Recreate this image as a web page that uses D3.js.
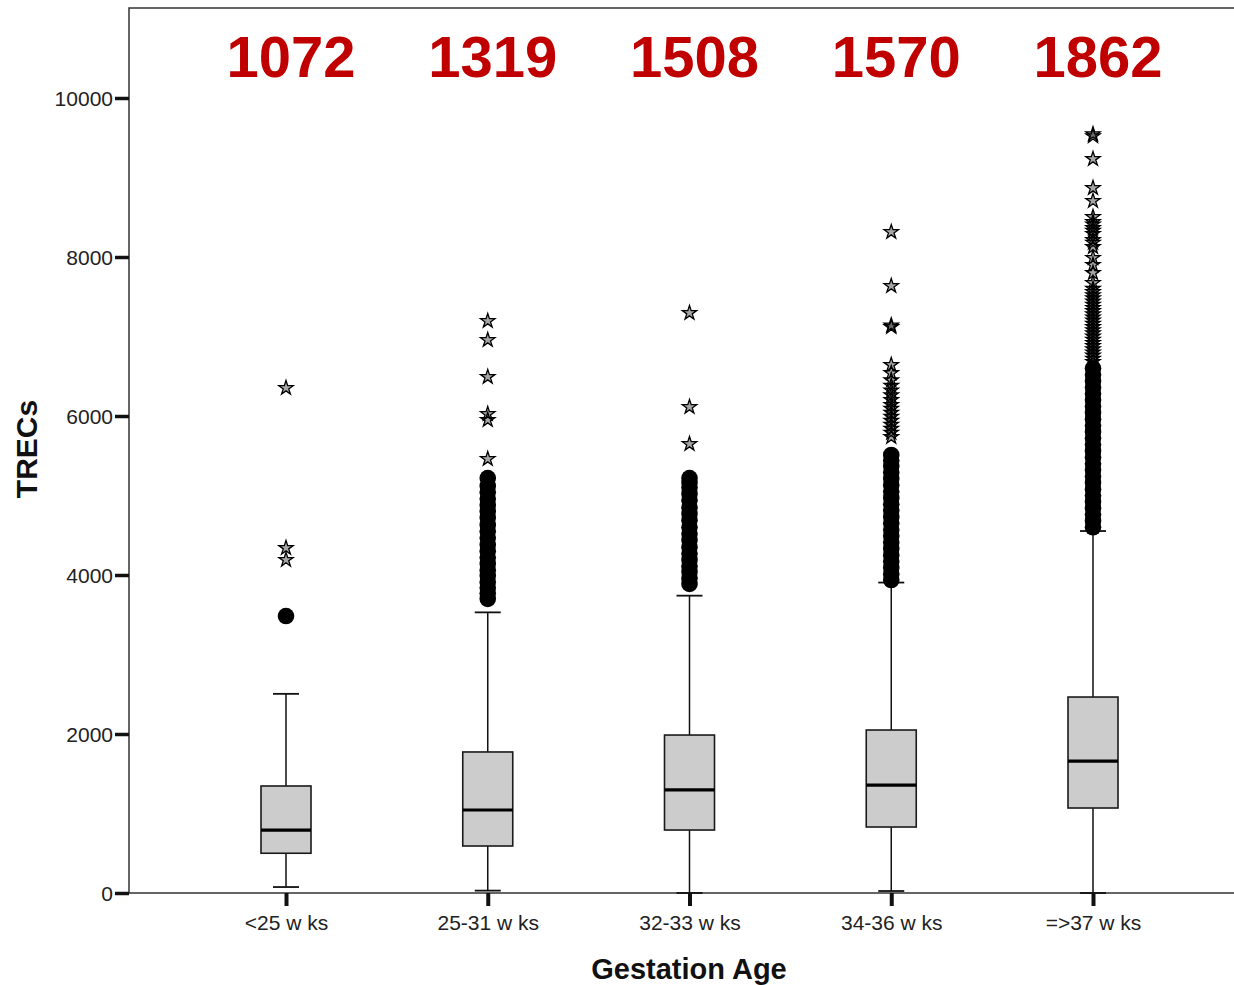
<!DOCTYPE html>
<html>
<head>
<meta charset="utf-8">
<script src="https://cdn.jsdelivr.net/npm/d3@7"></script>
<style>
  body { margin: 0; background: #fff; }
  svg { display: block; font-family: "Liberation Sans", Arial, sans-serif; }
</style>
</head>
<body>
<div id="chart"></div>
<script>
// categories and numbers above each box
var categories = ["<25 w ks", "25-31 w ks", "32-33 w ks", "34-36 w ks", "=>37 w ks"];
var topNumbers = ["1072", "1319", "1508", "1570", "1862"];

// box statistics
var whiskerLow  = [75, 30, 0, 25, 0];
var q1          = [500, 591, 792, 830, 1069];
var medians     = [792, 1044, 1296, 1358, 1660];
var q3          = [1346, 1774, 1987, 2050, 2465];
var whiskerHigh = [2505, 3530, 3740, 3905, 4553];

// outliers (circles) and extremes (stars)
var circles = [
  [3484],
  [3700, 3770, 3840, 3910, 3990, 4060, 4140, 4220, 4300, 4380, 4470, 4550, 4630, 4720, 4800, 4880, 4960, 5040, 5120, 5220],
  [3887, 3960, 4040, 4110, 4190, 4270, 4350, 4440, 4520, 4600, 4690, 4770, 4850, 4940, 5020, 5100, 5160, 5220],
  [3937, 4010, 4090, 4170, 4250, 4330, 4410, 4490, 4570, 4650, 4730, 4810, 4890, 4970, 5050, 5130, 5210, 5290, 5370, 5440, 5510],
  [4600, 4680, 4760, 4840, 4920, 5000, 5080, 5160, 5240, 5320, 5400, 5480, 5560, 5640, 5720, 5800, 5880, 5960, 6040, 6120, 6200, 6280, 6360, 6440, 6520, 6600]
];
var stars = [
  [4190, 4340, 6352],
  [5459, 5950, 6025, 6491, 6956, 7195],
  [5648, 6113, 7296],
  [5736, 5790, 5840, 5890, 5940, 5990, 6040, 6090, 6140, 6200, 6260, 6320, 6380, 6450, 6540, 6642, 7120, 7140, 7635, 8314],
  [6680, 6720, 6760, 6800, 6840, 6880, 6920, 6960, 7000, 7040, 7080, 7120, 7160, 7200, 7240, 7280, 7320, 7360, 7400, 7440, 7480, 7520, 7560, 7600,
   7673, 7799, 7900, 7988, 8126, 8180, 8214, 8290, 8330, 8365, 8410, 8440, 8503, 8705, 8868, 9233, 9520, 9545]
];
var yTicks = [0, 2000, 4000, 6000, 8000, 10000];

var width = 1234, height = 985;
var plotLeft = 129, plotTop = 8, plotBottom = 893;

var svg = d3.select("#chart")
  .append("svg")
    .attr("width", width)
    .attr("height", height);

var y = d3.scaleLinear().domain([0, 10000]).range([plotBottom, 98]);
var x = d3.scalePoint().domain(categories).range([286, 1093]);

var boxW = 50, capW = 26;

// frame (left, top, bottom lines)
svg.append("path")
  .attr("d", "M" + width + "," + plotTop + "H" + plotLeft + "V" + plotBottom + "H" + width)
  .attr("fill", "none")
  .attr("stroke", "#333")
  .attr("stroke-width", 1.5);

// y axis
var yAxis = svg.append("g")
  .attr("transform", "translate(" + plotLeft + ",0)")
  .call(d3.axisLeft(y).tickValues(yTicks).tickSize(14).tickPadding(2).tickFormat(d3.format("d")));
yAxis.select(".domain").remove();
yAxis.selectAll(".tick line").attr("stroke", "#111").attr("stroke-width", 3.5);
yAxis.selectAll(".tick text")
  .attr("font-size", 21)
  .attr("font-family", "Liberation Sans, Arial, sans-serif")
  .attr("fill", "#222")
  .attr("dy", "0.36em");

// x axis
var xAxis = svg.append("g")
  .attr("transform", "translate(0," + plotBottom + ")")
  .call(d3.axisBottom(x).tickSize(13).tickPadding(9));
xAxis.select(".domain").remove();
xAxis.selectAll(".tick line").attr("stroke", "#111").attr("stroke-width", 4);
xAxis.selectAll(".tick text")
  .attr("font-size", 21)
  .attr("font-family", "Liberation Sans, Arial, sans-serif")
  .attr("fill", "#222");

var groups = svg.selectAll("g.box")
  .data(categories)
  .enter()
  .append("g")
    .attr("class", "box");

// whisker line
groups.append("line")
  .attr("x1", function(d) { return x(d); })
  .attr("x2", function(d) { return x(d); })
  .attr("y1", function(d, i) { return y(whiskerLow[i]); })
  .attr("y2", function(d, i) { return y(whiskerHigh[i]); })
  .attr("stroke", "#111")
  .attr("stroke-width", 1.5);

// caps
[whiskerLow, whiskerHigh].forEach(function(arr) {
  groups.append("line")
    .attr("x1", function(d) { return x(d) - capW / 2; })
    .attr("x2", function(d) { return x(d) + capW / 2; })
    .attr("y1", function(d, i) { return y(arr[i]); })
    .attr("y2", function(d, i) { return y(arr[i]); })
    .attr("stroke", "#111")
    .attr("stroke-width", 1.8);
});

// boxes
groups.append("rect")
  .attr("x", function(d) { return x(d) - boxW / 2; })
  .attr("y", function(d, i) { return y(q3[i]); })
  .attr("width", boxW)
  .attr("height", function(d, i) { return y(q1[i]) - y(q3[i]); })
  .attr("fill", "#cccccc")
  .attr("stroke", "#1a1a1a")
  .attr("stroke-width", 1.6);

// median
groups.append("line")
  .attr("x1", function(d) { return x(d) - boxW / 2; })
  .attr("x2", function(d) { return x(d) + boxW / 2; })
  .attr("y1", function(d, i) { return y(medians[i]); })
  .attr("y2", function(d, i) { return y(medians[i]); })
  .attr("stroke", "#000")
  .attr("stroke-width", 3.2);

// outlier circles
groups.each(function(d, i) {
  d3.select(this).selectAll("circle")
    .data(circles[i])
    .enter()
    .append("circle")
      .attr("cx", x(d))
      .attr("cy", function(v) { return y(v); })
      .attr("r", 8.3)
      .attr("fill", "#000");
});

// extreme stars
var star = d3.symbol().type(d3.symbolStar).size(64);
groups.each(function(d, i) {
  d3.select(this).selectAll("path.star")
    .data(stars[i])
    .enter()
    .append("path")
      .attr("class", "star")
      .attr("d", star)
      .attr("transform", function(v) { return "translate(" + x(d) + "," + y(v) + ")"; })
      .attr("fill", "#000")
      .attr("fill-opacity", 0.35)
      .attr("stroke", "#000")
      .attr("stroke-width", 1.3);
});

// red numbers at top
svg.selectAll("text.top")
  .data(categories)
  .enter()
  .append("text")
    .attr("class", "top")
    .attr("x", function(d) { return x(d) + 5; })
    .attr("y", 77)
    .attr("text-anchor", "middle")
    .attr("font-size", 58)
    .attr("font-weight", "bold")
    .attr("fill", "#c00000")
    .text(function(d, i) { return topNumbers[i]; });

// axis titles
svg.append("text")
  .attr("transform", "translate(37,449) rotate(-90)")
  .attr("text-anchor", "middle")
  .attr("font-size", 30)
  .attr("font-weight", "bold")
  .attr("fill", "#111")
  .text("TRECs");

svg.append("text")
  .attr("x", 689)
  .attr("y", 979)
  .attr("text-anchor", "middle")
  .attr("font-size", 29)
  .attr("font-weight", "bold")
  .attr("fill", "#111")
  .text("Gestation Age");
</script>
</body>
</html>
